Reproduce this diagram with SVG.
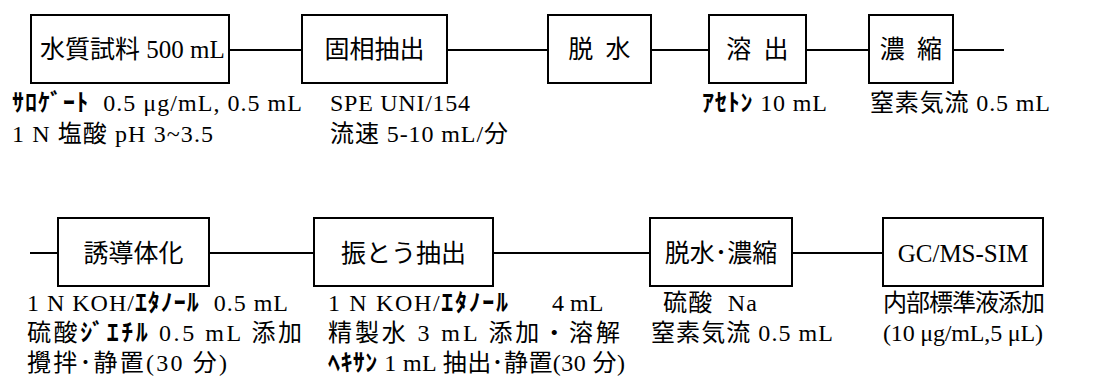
<svg xmlns="http://www.w3.org/2000/svg" width="1115" height="390" viewBox="0 0 1115 390">
<style>
.box{fill:#fff;stroke:#000;stroke-width:2}
.ln{stroke:#000;stroke-width:2;fill:none}
.bt{font-family:"Liberation Serif","Noto Sans CJK JP",serif;font-size:25px;fill:#000}
.lb{font-family:"Liberation Serif","Noto Sans CJK JP",serif;font-size:24px;fill:#000}
.kt{font-weight:bold}
.mid{text-anchor:middle}
</style>
<rect width="1115" height="390" fill="#fff"/>
<g id="connectors">
<line class="ln" x1="229" y1="50" x2="302" y2="50"/>
<line class="ln" x1="447" y1="50" x2="548" y2="50"/>
<line class="ln" x1="651" y1="50" x2="709" y2="50"/>
<line class="ln" x1="806" y1="50" x2="869" y2="50"/>
<line class="ln" x1="953" y1="50" x2="1004" y2="50"/>
<line class="ln" x1="30" y1="253" x2="58" y2="253"/>
<line class="ln" x1="209" y1="253" x2="314" y2="253"/>
<line class="ln" x1="493" y1="253" x2="650" y2="253"/>
<line class="ln" x1="792" y1="253" x2="883" y2="253"/>
</g>
<g id="n1">
<rect class="box" x="31" y="15" width="198" height="68"/>
<text class="bt" x="40" y="58">水質試料 500 mL</text>
<text class="lb" x="12" y="111" textLength="290" lengthAdjust="spacing" xml:space="preserve"><tspan class="kt">ｻﾛｹﾞｰﾄ</tspan>  0.5 μg/mL, 0.5 mL</text>
<text class="lb" x="12" y="142" textLength="201" lengthAdjust="spacing">1 N 塩酸 pH 3~3.5</text>
</g>
<g id="n2">
<rect class="box" x="302" y="15" width="145" height="68"/>
<text class="bt mid" x="374.5" y="58">固相抽出</text>
<text class="lb" x="330" y="111" textLength="140" lengthAdjust="spacing">SPE UNI/154</text>
<text class="lb" x="330" y="142" textLength="178" lengthAdjust="spacing">流速 5-10 mL/分</text>
</g>
<g id="n3">
<rect class="box" x="548" y="15" width="103" height="68"/>
<text class="bt mid" x="599.5" y="58" word-spacing="6">脱 水</text>
</g>
<g id="n4">
<rect class="box" x="709" y="15" width="97" height="68"/>
<text class="bt mid" x="757.5" y="58" word-spacing="6">溶 出</text>
<text class="lb" x="702" y="111" textLength="125" lengthAdjust="spacing"><tspan class="kt">ｱｾﾄﾝ</tspan> 10 mL</text>
</g>
<g id="n5">
<rect class="box" x="869" y="15" width="84" height="68"/>
<text class="bt mid" x="911" y="58" word-spacing="6">濃 縮</text>
<text class="lb" x="870" y="111" textLength="180" lengthAdjust="spacing">窒素気流 0.5 mL</text>
</g>
<g id="n6">
<rect class="box" x="58" y="218" width="151" height="68"/>
<text class="bt mid" x="133.5" y="262">誘導体化</text>
<text class="lb" x="27" y="311" textLength="261" lengthAdjust="spacing" xml:space="preserve">1 N KOH/<tspan class="kt">ｴﾀﾉｰﾙ</tspan>  0.5 mL</text>
<text class="lb" x="27" y="341" textLength="275" lengthAdjust="spacing">硫酸<tspan class="kt">ｼﾞｴﾁﾙ</tspan> 0.5 mL 添加</text>
<text class="lb" x="27" y="371" textLength="200" lengthAdjust="spacing">攪拌･静置(30 分)</text>
</g>
<g id="n7">
<rect class="box" x="314" y="218" width="179" height="68"/>
<text class="bt mid" x="403.5" y="262">振とう抽出</text>
<text class="lb" x="328" y="311" xml:space="preserve"><tspan textLength="180" lengthAdjust="spacing">1 N KOH/<tspan class="kt">ｴﾀﾉｰﾙ</tspan></tspan><tspan x="552">4 mL</tspan></text>
<text class="lb" x="328" y="341" textLength="292" lengthAdjust="spacing">精製水 3 mL 添加・溶解</text>
<text class="lb" x="328" y="371" textLength="297" lengthAdjust="spacing"><tspan class="kt">ﾍｷｻﾝ</tspan> 1 mL 抽出･静置(30 分)</text>
</g>
<g id="n8">
<rect class="box" x="650" y="218" width="142" height="68"/>
<text class="bt mid" x="721" y="262">脱水･濃縮</text>
<text class="lb" x="663" y="311" textLength="94" lengthAdjust="spacing" xml:space="preserve">硫酸  Na</text>
<text class="lb" x="651" y="341" textLength="182" lengthAdjust="spacing">窒素気流 0.5 mL</text>
</g>
<g id="n9">
<rect class="box" x="883" y="218" width="160" height="68"/>
<text class="bt mid" x="963" y="262">GC/MS-SIM</text>
<text class="lb" x="883" y="311" textLength="162" lengthAdjust="spacing">内部標準液添加</text>
<text class="lb" x="883" y="341" textLength="160" lengthAdjust="spacing">(10 μg/mL,5 μL)</text>
</g>
</svg>
